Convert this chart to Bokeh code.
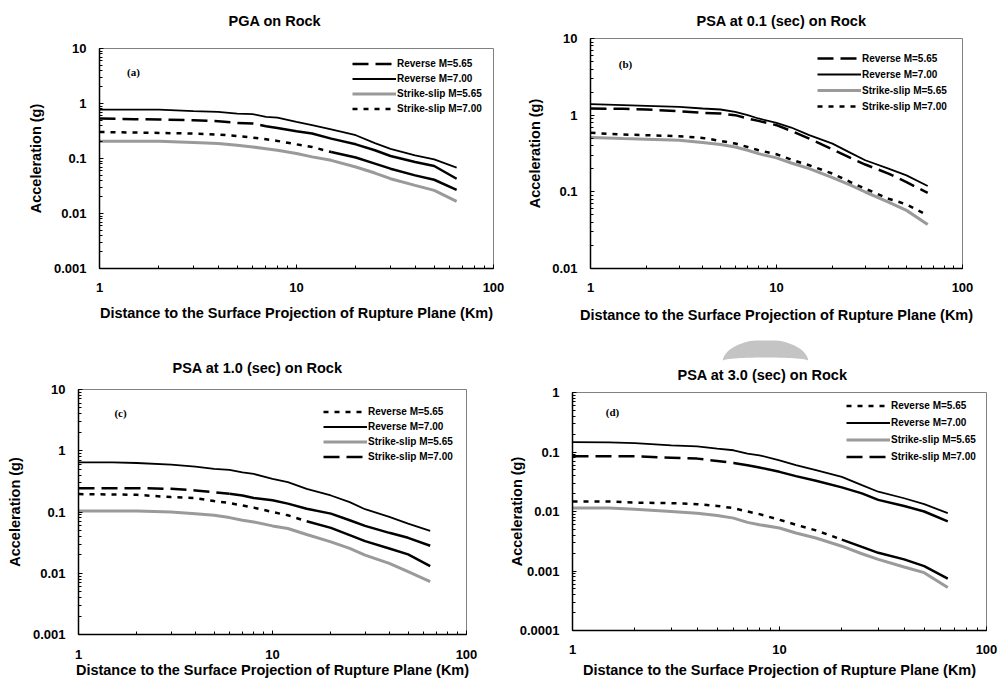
import numpy as np
from bokeh.plotting import figure
from bokeh.layouts import column, row
from bokeh.models import Range1d, Legend, LegendItem, Label, Title, CustomJSTickFormatter
from bokeh.embed import file_html
from bokeh.resources import INLINE

# ---------------- data ----------------
distance_km = [1, 1.5, 2, 3, 4, 5, 6, 7, 8, 10, 12, 15, 20, 25, 30, 40, 50, 65]

# (a) PGA on Rock
pga_rev_565 = [0.533, 0.518, 0.511, 0.497, 0.476, 0.444, 0.432, 0.386, 0.360, 0.313, 0.284, 0.230, 0.181, 0.141, 0.111, 0.0863, 0.073, 0.0429]
pga_rev_700 = [0.777, 0.777, 0.777, 0.725, 0.705, 0.657, 0.639, 0.571, 0.555, 0.463, 0.403, 0.340, 0.265, 0.190, 0.150, 0.114, 0.0966, 0.068]
pga_ss_565 = [0.206, 0.206, 0.206, 0.195, 0.187, 0.174, 0.162, 0.151, 0.141, 0.123, 0.107, 0.0926, 0.070, 0.0544, 0.0429, 0.0324, 0.0263, 0.0166]
pga_ss_700 = [0.304, 0.296, 0.292, 0.284, 0.272, 0.257, 0.240, 0.224, 0.209, 0.181, 0.162, 0.131, 0.104, 0.0805, 0.0653, 0.0493, 0.0411, 0.0270]

# (b) PSA at 0.1 sec on Rock
psa01_rev_565 = [1.222, 1.210, 1.186, 1.128, 1.073, 1.051, 1.0, 0.905, 0.843, 0.740, 0.624, 0.495, 0.359, 0.277, 0.227, 0.173, 0.134, 0.0966]
psa01_rev_700 = [1.393, 1.351, 1.324, 1.285, 1.222, 1.186, 1.105, 1.0, 0.905, 0.794, 0.690, 0.548, 0.426, 0.322, 0.258, 0.201, 0.164, 0.119]
psa01_ss_565 = [0.511, 0.495, 0.486, 0.471, 0.439, 0.414, 0.385, 0.349, 0.315, 0.277, 0.238, 0.201, 0.153, 0.122, 0.0995, 0.0736, 0.0573, 0.0376]
psa01_ss_700 = [0.588, 0.559, 0.548, 0.532, 0.505, 0.462, 0.426, 0.385, 0.349, 0.309, 0.263, 0.222, 0.173, 0.134, 0.110, 0.0814, 0.0686, 0.0493]

# (c) PSA at 1.0 sec on Rock
psa10_rev_565 = [0.196, 0.193, 0.191, 0.175, 0.169, 0.151, 0.140, 0.128, 0.118, 0.100, 0.0883, 0.0706, 0.0551, 0.0418, 0.0334, 0.0254, 0.0203, 0.0131]
psa10_rev_700 = [0.647, 0.647, 0.631, 0.593, 0.550, 0.504, 0.486, 0.445, 0.418, 0.347, 0.307, 0.239, 0.186, 0.145, 0.111, 0.0830, 0.0647, 0.0492]
psa10_ss_565 = [0.104, 0.104, 0.104, 0.100, 0.094, 0.0883, 0.0810, 0.0733, 0.0689, 0.0593, 0.0537, 0.0429, 0.0326, 0.0254, 0.0198, 0.0145, 0.0106, 0.00733]
psa10_ss_700 = [0.245, 0.245, 0.245, 0.239, 0.225, 0.211, 0.198, 0.186, 0.169, 0.155, 0.137, 0.113, 0.094, 0.0733, 0.0593, 0.0457, 0.0379, 0.0281]

# (d) PSA at 3.0 sec on Rock
psa30_rev_565 = [0.0147, 0.0147, 0.0141, 0.0138, 0.0133, 0.0124, 0.0114, 0.0100, 0.00903, 0.00726, 0.0060, 0.00482, 0.00337, 0.00254, 0.00202, 0.00157, 0.00121, 0.000745]
psa30_rev_700 = [0.147, 0.145, 0.141, 0.129, 0.124, 0.114, 0.107, 0.0938, 0.0880, 0.0726, 0.060, 0.0495, 0.0383, 0.0278, 0.0215, 0.0167, 0.0133, 0.00938]
psa30_ss_565 = [0.0114, 0.0114, 0.0109, 0.0100, 0.00938, 0.00858, 0.00774, 0.00656, 0.0060, 0.00528, 0.00435, 0.00359, 0.00261, 0.00195, 0.00157, 0.00117, 0.000938, 0.000527]
psa30_ss_700 = [0.0847, 0.0847, 0.0847, 0.0804, 0.0774, 0.0708, 0.0656, 0.060, 0.0548, 0.0464, 0.0393, 0.0329, 0.0254, 0.0202, 0.0157, 0.0124, 0.010, 0.00681]

series_names = ["Reverse M=5.65", "Reverse M=7.00", "Strike-slip M=5.65", "Strike-slip M=7.00"]
titles = ["PGA on Rock", "PSA at 0.1 (sec) on Rock", "PSA at 1.0 (sec) on Rock", "PSA at 3.0 (sec) on Rock"]
tags = ["(a)", "(b)", "(c)", "(d)"]
y_limits = [(0.001, 10), (0.01, 10), (0.001, 10), (0.0001, 1)]
x_title = "Distance to the Surface Projection of Rupture Plane (Km)"
y_title = "Acceleration (g)"

panel_values = [
    [pga_rev_565, pga_rev_700, pga_ss_565, pga_ss_700],
    [psa01_rev_565, psa01_rev_700, psa01_ss_565, psa01_ss_700],
    [psa10_rev_565, psa10_rev_700, psa10_ss_565, psa10_ss_700],
    [psa30_rev_565, psa30_rev_700, psa30_ss_565, psa30_ss_700],
]

# ---------------- styling / layout ----------------
FONT = "Liberation Sans"
TITLE_SIZE = 14.5
styles = {
    "dash": dict(line_color="black", line_width=2.5, line_dash="16 7"),
    "solid": dict(line_color="black", line_width=1.8),
    "gray": dict(line_color="#9a9a9a", line_width=3),
    "dot": dict(line_color="black", line_width=2.5, line_dash="5 6"),
}
title_em = [6.39, 11.726, 11.726, 11.726]   # approx. text widths in em (bold sans)

# page-pixel geometry of each panel
layout_cfg = [
    dict(origin=(0, 0), size=(513, 340), frame=(99, 493, 48, 268), title_at=(274, 19), tag_at=(133, 71),
         legend_at=(352, 56), item_h=15, styles=["dash", "solid", "gray", "dot"], solid_from=[7, None, None, 15],
         ytick_so=13, ylab_so=7, xtick_so=14, xlab_so=10),
    dict(origin=(513, 0), size=(485, 340), frame=(590, 962, 38, 268), title_at=(781, 19), tag_at=(625, 63),
         legend_at=(817, 50), item_h=16, styles=["dash", "solid", "gray", "dot"], solid_from=[None, None, None, None],
         ytick_so=13, ylab_so=6, xtick_so=14, xlab_so=12),
    dict(origin=(0, 340), size=(500, 340), frame=(78, 466, 389, 636), title_at=(257, 367), tag_at=(120, 414),
         legend_at=(323, 406), item_h=15, styles=["dot", "solid", "gray", "dash"], solid_from=[15, None, None, 6],
         ytick_so=13, ylab_so=7, xtick_so=15, xlab_so=0),
    dict(origin=(500, 362), size=(498, 318), frame=(572, 986, 392, 632), title_at=(762, 374), tag_at=(612, 413),
         legend_at=(846, 399), item_h=17, styles=["dot", "solid", "gray", "dash"], solid_from=[20, None, None, 6],
         ytick_so=13, ylab_so=-8, xtick_so=14, xlab_so=5),
]


def build(i):
    cfg = layout_cfg[i]
    ox, oy = cfg["origin"]
    w, h = cfg["size"]
    L, R, T, B = cfg["frame"]
    ylo, yhi = y_limits[i]
    p = figure(width=w, height=h, x_axis_type="log", y_axis_type="log",
               x_range=Range1d(1, 100), y_range=Range1d(ylo, yhi),
               output_backend="svg", toolbar_location=None,
               min_border_left=L - ox, min_border_right=ox + w - R,
               min_border_top=T - oy, min_border_bottom=oy + h - B)
    p.frame_align = False
    p.title.text = ""
    p.xgrid.visible = False
    p.ygrid.visible = False
    p.outline_line_color = "#808080"
    p.outline_line_width = 1
    p.background_fill_color = "white"
    p.border_fill_color = "white"

    for ax in (p.xaxis[0], p.yaxis[0]):
        ax.axis_line_color = "black"
        ax.axis_line_width = 1.5
        ax.major_tick_in = 4
        ax.major_tick_out = 0
        ax.minor_tick_in = 3
        ax.minor_tick_out = 0
        ax.major_tick_line_color = "black"
        ax.minor_tick_line_color = "black"
        ax.major_label_text_font = FONT
        ax.major_label_text_font_style = "bold"
        ax.major_label_text_font_size = "13px"
        ax.major_label_text_color = "black"
        ax.axis_label_text_font = FONT
        ax.axis_label_text_font_style = "bold"
        ax.axis_label_text_font_size = "14.5px"
        ax.axis_label_text_color = "black"
        ax.formatter = CustomJSTickFormatter(code="return tick.toString();")
    p.xaxis.axis_label = x_title
    p.yaxis.axis_label = y_title
    p.xaxis.major_label_standoff = cfg["xtick_so"]
    p.xaxis.axis_label_standoff = cfg["xlab_so"]
    p.yaxis.major_label_standoff = cfg["ytick_so"]
    p.yaxis.axis_label_standoff = cfg["ylab_so"]

    def scr(px, py):
        return px - L, B - py

    rends = {}
    for k in [2, 0, 1, 3]:
        vals = panel_values[i][k]
        st = styles[cfg["styles"][k]]
        cut = cfg["solid_from"][k]
        if cut is None or "line_dash" not in st:
            r = p.line(distance_km, vals, **st)
        else:
            j = distance_km.index(cut)
            r = p.line(distance_km[:j + 1], vals[:j + 1], **st)
            solid = {kk: vv for kk, vv in st.items() if kk != "line_dash"}
            p.line(distance_km[j:], vals[j:], **solid)
        rends[k] = r

    items = [LegendItem(label=series_names[k], renderers=[rends[k]]) for k in range(4)]
    gx, gy = cfg["legend_at"]
    ih = cfg["item_h"]
    leg = Legend(items=items, location=(gx - L, B - gy - 4 * ih), glyph_width=44, glyph_height=ih,
                 label_height=ih, label_standoff=1, spacing=0, padding=0, margin=0,
                 border_line_color=None, background_fill_alpha=0,
                 label_text_font=FONT, label_text_font_style="bold",
                 label_text_font_size="10px", label_text_color="black")
    p.add_layout(leg)

    # title: a spacer line next to the frame, then the title itself above it
    tcx, tcy = cfg["title_at"]
    text_h = 17
    title_panel_h = 2 + text_h
    spacer_h = T - (tcy + title_panel_h / 2)
    spacer = Title(text=" ", text_font_size="1px", standoff=max(0, int(round(spacer_h - 3))))
    p.add_layout(spacer, "above")
    tw = title_em[i] * TITLE_SIZE
    p.add_layout(Title(text=titles[i], align="left", offset=int(round(tcx - tw / 2 - L)),
                       vertical_align="middle", standoff=0, text_font=FONT, text_font_style="bold",
                       text_font_size=f"{TITLE_SIZE}px", text_color="black"), "above")

    gx2, gy2 = scr(*cfg["tag_at"])
    p.add_layout(Label(x=gx2, y=gy2, x_units="screen", y_units="screen", text=tags[i],
                       text_align="center", text_baseline="middle", text_font="Liberation Serif",
                       text_font_style="bold", text_font_size="11px", text_color="black"))
    return p


# small strip above panel (d) carrying the grey arch seen in the reference
def arch_strip():
    s = figure(width=498, height=22, x_range=Range1d(500, 998), y_range=Range1d(362, 340),
               output_backend="svg", toolbar_location=None, x_axis_location=None, y_axis_location=None,
               min_border=0, min_border_left=0, min_border_right=0, min_border_top=0, min_border_bottom=0)
    s.frame_align = False
    s.title.text = ""
    s.outline_line_color = None
    s.xgrid.visible = False
    s.ygrid.visible = False
    s.background_fill_color = "white"
    s.border_fill_color = "white"
    t = np.linspace(0.09, np.pi - 0.09, 40)
    top_x = 765 + 43 * np.cos(t)
    top_y = 362 - 23 * np.sin(t)
    u = np.linspace(-1, 1, 30)
    bot_x = 765 + 42.8 * u
    bot_y = 360 - 3 * np.sqrt(1 - u ** 2)
    s.patch(list(np.concatenate([top_x, bot_x])), list(np.concatenate([top_y, bot_y])),
            fill_color="#c4c4c4", line_color=None)
    return s


figs = [build(i) for i in range(4)]
layout = column(row(figs[0], figs[1]), row(figs[2], column(arch_strip(), figs[3])))
open("out.html", "w").write(file_html(layout, INLINE))
